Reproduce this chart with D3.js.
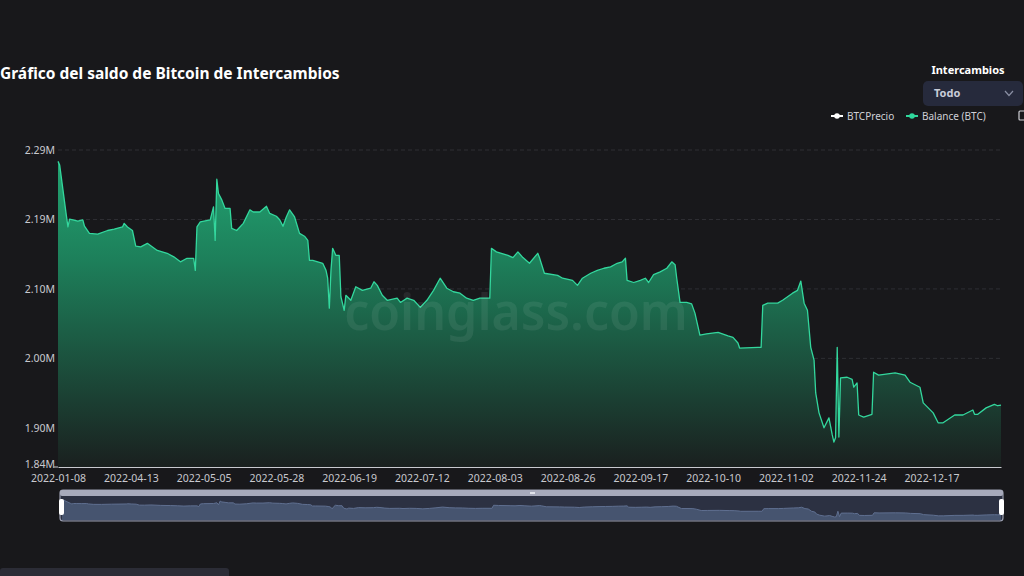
<!DOCTYPE html>
<html>
<head>
<meta charset="utf-8">
<script src="https://cdn.jsdelivr.net/npm/d3@7"></script>
<style>
  html, body { margin: 0; padding: 0; background: #18181b; }
  svg { display: block; }
</style>
</head>
<body>
<svg id="chart" width="1024" height="576"></svg>
<script>
// ---- data ----
const title = "Gráfico del saldo de Bitcoin de Intercambios";
const xTickLabels = ["2022-01-08","2022-04-13","2022-05-05","2022-05-28","2022-06-19","2022-07-12","2022-08-03","2022-08-26","2022-09-17","2022-10-10","2022-11-02","2022-11-24","2022-12-17"];
const xTickStep = 44;          // categories between labels
const categoryCount = 571;     // number of categories on the axis
const yTickValues = [1.84, 1.895, 1.9925, 2.09, 2.1875, 2.285];
const yTickLabels = ["1.84M","1.90M","2.00M","2.10M","2.19M","2.29M"];
// category index of each reading, and balance in millions of BTC
const pointIndex = [0,1,3,5,6,7,9,12,15,16,19,24,30,34,39,40,42,45,47,50,54,60,66,70,74,78,82,83,84,86,92,94,95,96,97,99,101,104,105,108,112,116,118,122,126,128,132,134,136,138,140,143,146,149,151,152,154,160,162,163,164,165,166,168,170,171,173,174,177,180,184,189,191,193,196,199,205,207,211,215,219,223,227,231,235,239,243,247,251,255,261,262,265,272,275,278,281,285,290,291,294,302,305,311,314,317,322,326,330,334,338,341,343,344,348,352,355,357,360,364,368,371,373,374,376,380,383,385,388,392,399,405,408,411,412,423,425,426,429,435,438,444,447,449,451,453,455,457,458,460,463,466,468,469,470,471,472,473,477,480,481,483,484,487,492,493,496,506,512,515,521,523,529,532,535,542,547,553,554,556,561,566,568,570];
const balance = [2.269,2.264,2.229,2.194,2.177,2.188,2.187,2.185,2.187,2.178,2.168,2.167,2.172,2.174,2.177,2.182,2.177,2.172,2.150,2.149,2.154,2.144,2.140,2.135,2.128,2.133,2.133,2.116,2.177,2.184,2.187,2.205,2.158,2.244,2.224,2.215,2.203,2.203,2.175,2.172,2.182,2.201,2.198,2.198,2.206,2.196,2.192,2.187,2.178,2.191,2.201,2.191,2.168,2.164,2.158,2.130,2.130,2.126,2.116,2.105,2.063,2.116,2.147,2.137,2.137,2.079,2.060,2.081,2.074,2.093,2.088,2.091,2.100,2.095,2.081,2.074,2.077,2.071,2.077,2.074,2.064,2.074,2.088,2.105,2.091,2.086,2.084,2.077,2.074,2.077,2.077,2.147,2.142,2.137,2.134,2.142,2.134,2.126,2.140,2.134,2.112,2.109,2.105,2.102,2.095,2.105,2.112,2.116,2.119,2.121,2.126,2.128,2.133,2.102,2.099,2.102,2.105,2.099,2.110,2.114,2.119,2.128,2.124,2.105,2.071,2.071,2.069,2.056,2.025,2.027,2.029,2.024,2.022,2.014,2.007,2.008,2.008,2.067,2.070,2.070,2.074,2.084,2.088,2.101,2.070,2.060,2.008,1.990,1.944,1.916,1.895,1.909,1.885,1.875,1.881,2.008,1.882,1.965,1.966,1.963,1.952,1.958,1.913,1.910,1.914,1.973,1.969,1.972,1.969,1.959,1.952,1.930,1.916,1.902,1.902,1.913,1.913,1.920,1.914,1.914,1.923,1.928,1.926,1.927];
const legendItems = [{name: "BTCPrecio", color: "#ffffff"}, {name: "Balance (BTC)", color: "#2fd79c"}];
const exchangeLabel = "Intercambios";
const exchangeValue = "Todo";

// ---- build ----
const data = pointIndex.map((i, k) => ({i, v: balance[k]}));
const svg = d3.select("#chart");
const FONT = "'Noto Sans', 'Open Sans', sans-serif";

svg.append("rect").attr("width", 1024).attr("height", 576).attr("fill", "#18181b");

const x = d3.scaleLinear().domain([0, categoryCount - 1]).range([58, 1001]);
const y = d3.scaleLinear().domain([1.84, 2.285]).range([467, 150]);

// title
svg.append("text").attr("x", 0).attr("y", 79).text(title)
  .attr("fill", "#ffffff").attr("font-family", FONT).attr("font-weight", 700).attr("font-size", 15.5);

// exchange selector
svg.append("text").attr("x", 968).attr("y", 74).attr("text-anchor", "middle").text(exchangeLabel)
  .attr("fill", "#ffffff").attr("font-family", FONT).attr("font-weight", 700).attr("font-size", 11);
svg.append("rect").attr("x", 923).attr("y", 81).attr("width", 100).attr("height", 25).attr("rx", 5)
  .attr("fill", "#262a3c");
svg.append("text").attr("x", 934).attr("y", 97).text(exchangeValue)
  .attr("fill", "#c9ccd8").attr("font-family", FONT).attr("font-weight", 700).attr("font-size", 11);
svg.append("path").attr("d", "M1005,91 L1009,95.5 L1013,91").attr("fill", "none")
  .attr("stroke", "#8a8fa3").attr("stroke-width", 1.2);

// legend
const legendX = [831, 906];
legendItems.forEach((d, k) => {
  const g = svg.append("g").attr("transform", `translate(${legendX[k]},116)`);
  g.append("line").attr("x1", 0).attr("x2", 12).attr("y1", 0).attr("y2", 0).attr("stroke", d.color).attr("stroke-width", 2);
  g.append("circle").attr("cx", 6).attr("cy", 0).attr("r", 2.8).attr("fill", d.color);
  g.append("text").attr("x", 16).attr("y", 3.5).text(d.name).attr("fill", "#cfd0d6")
    .attr("font-family", FONT).attr("font-size", 10);
});
// toolbox icon (partially cut)
svg.append("rect").attr("x", 1019).attr("y", 111).attr("width", 8).attr("height", 9).attr("rx", 1)
  .attr("fill", "none").attr("stroke", "#cfd0d6").attr("stroke-width", 1.2);

// grid lines
svg.append("g").selectAll("line").data(yTickValues.slice(1)).join("line")
  .attr("x1", 58).attr("x2", 1001).attr("y1", d => y(d)).attr("y2", d => y(d))
  .attr("stroke", "#2e2f34").attr("stroke-dasharray", "4,3").attr("stroke-width", 1);

// gradient
const defs = svg.append("defs");
const grad = defs.append("linearGradient").attr("id", "areaGrad")
  .attr("gradientUnits", "userSpaceOnUse").attr("x1", 0).attr("x2", 0).attr("y1", 150).attr("y2", 467);
grad.append("stop").attr("offset", "0%").attr("stop-color", "#23a875");
grad.append("stop").attr("offset", "35%").attr("stop-color", "#1d7f5a");
grad.append("stop").attr("offset", "100%").attr("stop-color", "#1a201f");

const area = d3.area().x(d => x(d.i)).y0(467).y1(d => y(d.v));
const line = d3.line().x(d => x(d.i)).y(d => y(d.v));
svg.append("path").datum(data).attr("d", area).attr("fill", "url(#areaGrad)");
svg.append("path").datum(data).attr("d", line).attr("fill", "none")
  .attr("stroke", "#33d79d").attr("stroke-width", 1.3).attr("stroke-linejoin", "round");

// watermark
svg.append("text").attr("x", 516).attr("y", 330).attr("text-anchor", "middle").text("coinglass.com")
  .attr("fill", "#ffffff").attr("fill-opacity", 0.07).attr("font-family", FONT)
  .attr("font-weight", 600).attr("font-size", 50);

// y axis labels
const yAxis = d3.axisLeft(y).tickValues(yTickValues).tickSize(0).tickPadding(3)
  .tickFormat((d, k) => yTickLabels[k]);
const gy = svg.append("g").attr("transform", "translate(58,0)").call(yAxis);
gy.select(".domain").remove();
gy.selectAll("text").attr("fill", "#c8c9cf").attr("font-family", FONT).attr("font-size", 10.5);
gy.selectAll(".tick").filter((d, k) => k === 0).select("text").attr("dy", "0.05em");
// small tick at 1.84
svg.append("line").attr("x1", 54).attr("x2", 58).attr("y1", 467).attr("y2", 467).attr("stroke", "#c8c9cf");

// x axis
const xTickIdx = xTickLabels.map((_, k) => k * xTickStep);
const xAxis = d3.axisBottom(x).tickValues(xTickIdx).tickSize(0).tickPadding(8)
  .tickFormat((d, k) => xTickLabels[k]);
const gx = svg.append("g").attr("transform", "translate(0,467)").call(xAxis);
gx.select(".domain").attr("stroke", "#c9cad0").attr("stroke-width", 1);
gx.selectAll("text").attr("fill", "#c8c9cf").attr("font-family", FONT).attr("font-size", 10.5);

// data zoom slider
const sx = d3.scaleLinear().domain([0, categoryCount - 1]).range([62, 1001]);
const sy = d3.scaleLinear().domain(d3.extent(balance)).range([517, 500]);
svg.append("rect").attr("x", 60).attr("y", 490).attr("width", 943).attr("height", 31).attr("rx", 3)
  .attr("fill", "#2c3142").attr("stroke", "#9a9eb0").attr("stroke-width", 1.2);
svg.append("rect").attr("x", 60).attr("y", 490).attr("width", 943).attr("height", 6).attr("rx", 2)
  .attr("fill", "#a7aabb");
const miniArea = d3.area().x(d => sx(d.i)).y0(520).y1(d => sy(d.v));
svg.append("path").datum(data).attr("d", miniArea).attr("fill", "#46546f");
svg.append("path").datum(data).attr("d", d3.line().x(d => sx(d.i)).y(d => sy(d.v)))
  .attr("fill", "none").attr("stroke", "#5f6f90").attr("stroke-width", 1);
svg.append("rect").attr("x", 530).attr("y", 492).attr("width", 5).attr("height", 2).attr("fill", "#e0e2ea");
[59, 999].forEach(hx => {
  svg.append("rect").attr("x", hx).attr("y", 499).attr("width", 5).attr("height", 16).attr("rx", 2)
    .attr("fill", "#ffffff");
});

// bottom left panel fragment
svg.append("rect").attr("x", 0).attr("y", 568).attr("width", 229).attr("height", 10).attr("rx", 3)
  .attr("fill", "#2b2c36");
</script>
</body>
</html>
